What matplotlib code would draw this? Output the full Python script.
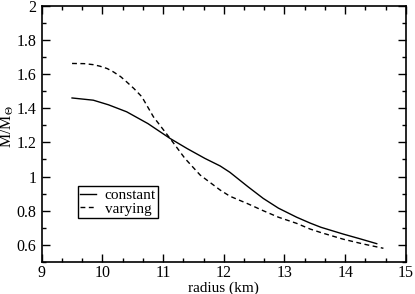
import matplotlib.pyplot as plt
from matplotlib.ticker import MultipleLocator

plt.rcParams['font.family'] = ['Liberation Serif', 'DejaVu Serif']
plt.rcParams['mathtext.fontset'] = 'stix'

# mass-radius curves
radius_const = [9.5, 9.85, 10.1, 10.4, 10.75, 11.115, 11.4, 11.69, 11.94, 12.1,
                12.4, 12.65, 12.9, 13.2, 13.42, 13.6, 13.97, 14.25, 14.52]
mass_const = [1.46, 1.447, 1.42, 1.379, 1.31, 1.223, 1.163, 1.106, 1.062, 1.025,
              0.94, 0.872, 0.815, 0.762, 0.728, 0.703, 0.663, 0.635, 0.607]

radius_vary = [9.5, 9.7, 9.85, 9.96, 10.08, 10.18, 10.3, 10.4, 10.52, 10.65, 10.84,
               11.115, 11.36, 11.61, 11.94, 12.1, 12.4, 12.65, 12.9, 13.2, 13.42,
               13.6, 13.97, 14.3, 14.63]
mass_vary = [1.662, 1.661, 1.655, 1.646, 1.632, 1.613, 1.585, 1.554, 1.515, 1.467, 1.35,
             1.223, 1.106, 1.009, 0.921, 0.885, 0.84, 0.80, 0.762, 0.726, 0.693,
             0.672, 0.633, 0.605, 0.58]

fig = plt.figure(figsize=(4.15, 2.94), dpi=100)
ax = fig.add_axes([0.1005, 0.109, 0.8775, 0.8715])

ax.plot(radius_const, mass_const, color='black', lw=1.0, label='constant')
ax.plot(radius_vary, mass_vary, color='black', lw=1.0, dashes=(3.5, 2.5), label='varying')

ax.set_xlim(9, 15)
ax.set_ylim(0.5, 2)
ax.xaxis.set_major_locator(MultipleLocator(1))
ax.xaxis.set_minor_locator(MultipleLocator(1/3))
ax.yaxis.set_minor_locator(MultipleLocator(0.1))
ax.set_yticks([0.6, 0.8, 1.0, 1.2, 1.4, 1.6, 1.8, 2.0])
ax.set_yticklabels(['0.6', '0.8', '1', '1.2', '1.4', '1.6', '1.8', '2'])

ax.tick_params(which='both', direction='in', top=True, right=True, labelsize=11.5, width=1)
ax.tick_params(which='major', length=6)
ax.tick_params(which='minor', length=3)
ax.tick_params(axis='x', which='major', pad=2)
ax.tick_params(axis='y', which='major', pad=4)
for s in ax.spines.values():
    s.set_linewidth(1.2)

ax.set_xlabel('radius (km)', fontsize=11)
ax.xaxis.set_label_coords(0.5, -0.075)
ax.set_ylabel(r'M/M$_{\Theta}$', fontsize=11.5)
ax.yaxis.set_label_coords(-0.07, 0.53)

leg = ax.legend(loc='lower left', bbox_to_anchor=(0.1, 0.172), fontsize=11,
                frameon=True, fancybox=False, edgecolor='black', framealpha=1,
                handlelength=1.0, handletextpad=0.6, borderpad=0.15,
                labelspacing=0.0, borderaxespad=0)
leg.get_frame().set_linewidth(1.0)

fig.savefig('out.png', dpi=100)
